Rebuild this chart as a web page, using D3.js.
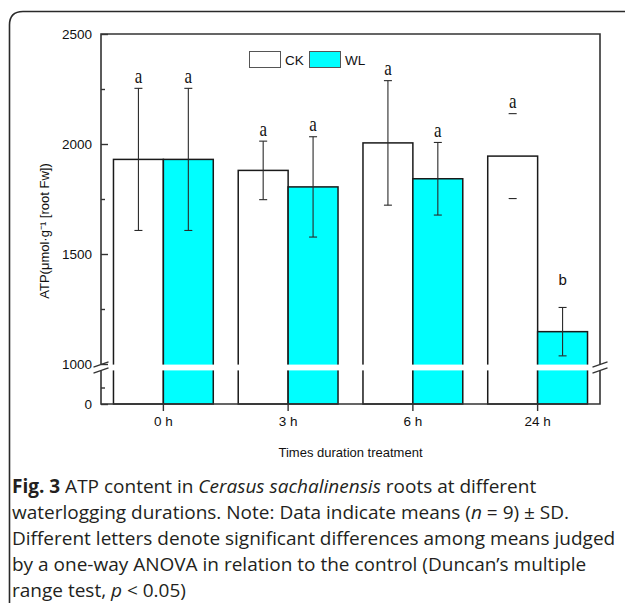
<!DOCTYPE html>
<html>
<head>
<meta charset="utf-8">
<script src="https://cdn.jsdelivr.net/npm/d3@7"></script>
<style>
  html, body { margin: 0; padding: 0; background: #fff; }
  svg { display: block; }
</style>
</head>
<body>
<svg id="fig" width="625" height="603"></svg>
<script>
// ---- data ----
const times = ["0 h", "3 h", "6 h", "24 h"];
const groups = ["CK", "WL"];
const ckMean = [1930, 1880, 2005, 1945];
const ckSD   = [323, 133, 283, 193];
const wlMean = [1930, 1805, 1842, 1147];
const wlSD   = [323, 228, 165, 110];
const ckLetters = ["a", "a", "a", "a"];
const wlLetters = ["a", "a", "a", "b"];
const upperTicks = [1000, 1500, 2000, 2500];
const upperMinor = [1250, 1750, 2250];
const lowerTicks = [0];
const lowerMinor = [500];
const yTitle = "ATP(μmol·g⁻¹ [root Fw])";
const xTitle = "Times duration treatment";

// ---- layout ----
const plot = { left: 101, right: 600, top: 34, bottom: 404 };
const breakAt = 1000;          // axis break value
const lowerSpan = 33;          // px used by 0..1000 below the break
const gapPx = 7;               // white gap of the break

const svg = d3.select("#fig");

// outer figure frame (rounded top-left corner, open to the right/bottom)
svg.append("path")
  .attr("d", "M9.5,640 L9.5,25 Q9.5,11.5 23,11.5 L660,11.5")
  .attr("fill", "none").attr("stroke", "#2a2a2a").attr("stroke-width", 1.6);

// two-part y scale around the break
const yLower = d3.scaleLinear().domain([0, breakAt])
  .range([plot.bottom, plot.bottom - lowerSpan]);
const yUpper = d3.scaleLinear().domain([breakAt, 2500])
  .range([plot.bottom - lowerSpan - gapPx, plot.top]);
const y = v => (v >= breakAt ? yUpper(v) : yLower(v));

const x0 = d3.scaleBand().domain(times)
  .range([plot.left, plot.right]).paddingInner(0.2).paddingOuter(0.1);
const x1 = d3.scaleBand().domain(groups).range([0, x0.bandwidth()]);

const rows = times.map((t, i) => ({
  t,
  vals: [
    { g: "CK", mean: ckMean[i], sd: ckSD[i], letter: ckLetters[i] },
    { g: "WL", mean: wlMean[i], sd: wlSD[i], letter: wlLetters[i] }
  ]
}));

const fill = { CK: "#ffffff", WL: "#00ffff" };
// error bars whose stem is not drawn (only caps shown)
const capsOnly = new Set(["CK|24 h"]);
// letter styling above the error bars
const letterLift = { a: 5.5, b: 22 };
const letterFont = { a: "'Liberation Serif', 'Times New Roman', serif", b: "'Liberation Sans', Arial, sans-serif" };
const letterSize = { a: 17, b: 15 };
const letterStretch = { a: 1.2, b: 1 };

const gBars = svg.append("g");
const grp = gBars.selectAll("g.grp").data(rows).join("g")
  .attr("class", "grp")
  .attr("transform", d => `translate(${x0(d.t)},0)`);

grp.selectAll("rect").data(d => d.vals).join("rect")
  .attr("x", d => x1(d.g))
  .attr("y", d => y(d.mean))
  .attr("width", x1.bandwidth())
  .attr("height", d => plot.bottom - y(d.mean))
  .attr("fill", d => fill[d.g])
  .attr("stroke", "#1a1a1a").attr("stroke-width", 1.5);

// white break band through the bars
svg.append("rect")
  .attr("x", plot.left + 1).attr("width", plot.right - plot.left - 2)
  .attr("y", yUpper(breakAt) + 0.6).attr("height", gapPx - 1.2)
  .attr("fill", "#fff");

// error bars
const capW = 4;
grp.each(function (d) {
  const g = d3.select(this);
  d.vals.forEach(v => {
    const cx = x1(v.g) + x1.bandwidth() / 2;
    const yt = y(v.mean + v.sd), yb = y(v.mean - v.sd);
    if (!capsOnly.has(v.g + "|" + d.t)) {
      g.append("line").attr("x1", cx).attr("x2", cx).attr("y1", yt).attr("y2", yb)
        .attr("stroke", "#2a2a2a").attr("stroke-width", 1.1);
    }
    [yt, yb].forEach(yy => g.append("line")
      .attr("x1", cx - capW).attr("x2", cx + capW).attr("y1", yy).attr("y2", yy)
      .attr("stroke", "#2a2a2a").attr("stroke-width", 1.1));
    g.append("text")
      .attr("transform", `translate(${cx},${yt - letterLift[v.letter]}) scale(1,${letterStretch[v.letter]})`)
      .attr("text-anchor", "middle")
      .attr("font-family", letterFont[v.letter])
      .attr("font-size", letterSize[v.letter])
      .attr("fill", "#111")
      .text(v.letter);
  });
});

// plot frame with broken side lines
const frameColor = "#333";
const ybTop = yUpper(breakAt), ybBot = yLower(breakAt);
const frame = svg.append("g").attr("stroke", frameColor).attr("stroke-width", 1.6).attr("fill", "none");
frame.append("path").attr("d",
  `M${plot.left},${ybTop} L${plot.left},${plot.top} L${plot.right},${plot.top} L${plot.right},${ybTop}`);
frame.append("path").attr("d",
  `M${plot.left},${ybBot} L${plot.left},${plot.bottom} L${plot.right},${plot.bottom} L${plot.right},${ybBot}`);

// break marks
[plot.left, plot.right].forEach(xx => {
  [ybTop + 0.5, ybBot - 0.5].forEach(yy => {
    svg.append("line")
      .attr("x1", xx - 7.5).attr("y1", yy + 2.6)
      .attr("x2", xx + 7.5).attr("y2", yy - 2.6)
      .attr("stroke", "#333").attr("stroke-width", 1.3);
  });
});

// y axes (ticks inside)
const tickFont = "'Liberation Sans', Arial, sans-serif";
function styleAxis(sel) {
  sel.select(".domain").remove();
  sel.selectAll(".tick line").attr("stroke", frameColor).attr("stroke-width", 1.4);
  sel.selectAll(".tick text").attr("font-family", tickFont).attr("font-size", 13.5).attr("fill", "#111");
}
svg.append("g").attr("transform", `translate(${plot.left},0)`)
  .call(d3.axisLeft(yUpper).tickValues(upperTicks).tickSize(-7).tickPadding(9).tickFormat(d3.format("d")))
  .call(styleAxis);
svg.append("g").attr("transform", `translate(${plot.left},0)`)
  .call(d3.axisLeft(yUpper).tickValues(upperMinor).tickSize(-4).tickFormat(""))
  .call(styleAxis);
svg.append("g").attr("transform", `translate(${plot.left},0)`)
  .call(d3.axisLeft(yLower).tickValues(lowerTicks).tickSize(-7).tickPadding(9).tickFormat(d3.format("d")))
  .call(styleAxis);
svg.append("g").attr("transform", `translate(${plot.left},0)`)
  .call(d3.axisLeft(yLower).tickValues(lowerMinor).tickSize(-4).tickFormat(""))
  .call(styleAxis);

// x axis (ticks outside)
svg.append("g").attr("transform", `translate(0,${plot.bottom})`)
  .call(d3.axisBottom(x0).tickSize(7).tickPadding(5))
  .call(styleAxis);

// axis titles
svg.append("text")
  .attr("transform", `translate(49,${(plot.top + plot.bottom) / 2 + 12}) rotate(-90)`)
  .attr("text-anchor", "middle").attr("font-family", tickFont).attr("font-size", 13)
  .attr("fill", "#111")
  .text(yTitle);
svg.append("text")
  .attr("x", (plot.left + plot.right) / 2).attr("y", 457)
  .attr("text-anchor", "middle").attr("font-family", tickFont).attr("font-size", 13)
  .attr("fill", "#111")
  .text(xTitle);

// legend
const legend = svg.append("g").attr("transform", "translate(249,51)");
groups.forEach((gname, i) => {
  const lg = legend.append("g").attr("transform", `translate(${i * 60},0)`);
  lg.append("rect").attr("x", 0.5).attr("y", 0.5).attr("width", 31).attr("height", 16)
    .attr("fill", fill[gname]).attr("stroke", "#555").attr("stroke-width", 1);
  lg.append("text").attr("x", 36).attr("y", 13.5)
    .attr("font-family", tickFont).attr("font-size", 13.5).attr("fill", "#111")
    .text(gname);
});

// figure caption
const capLines = [
  [["Fig. 3", "b"], [" ATP content in ", ""], ["Cerasus sachalinensis", "i"], [" roots at different", ""]],
  [["waterlogging durations. Note: Data indicate means (", ""], ["n", "i"], [" = 9) ± SD.", ""]],
  [["Different letters denote significant differences among means judged", ""]],
  [["by a one-way ANOVA in relation to the control (Duncan’s multiple", ""]],
  [["range test, ", ""], ["p", "i"], [" < 0.05)", ""]]
];
const cap = svg.append("text")
  .attr("font-family", "'Open Sans', 'Noto Sans', sans-serif")
  .attr("font-size", 19).attr("fill", "#231f20");
capLines.forEach((line, li) => {
  line.forEach(([txt, st], si) => {
    const ts = cap.append("tspan").text(txt);
    if (si === 0) ts.attr("x", 12).attr("y", 493 + li * 26);
    if (st === "b") ts.attr("font-weight", 700);
    if (st === "i") ts.attr("font-style", "italic");
  });
});
</script>
</body>
</html>
